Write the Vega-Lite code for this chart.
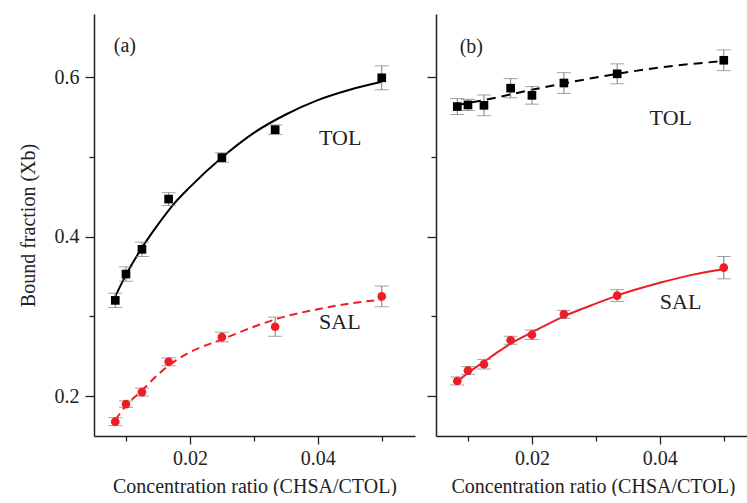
{
  "$schema": "https://vega.github.io/schema/vega-lite/v6.json",
  "padding": {"left": 18, "top": 14, "right": 0, "bottom": 0},
  "autosize": {"type": "pad"},
  "background": "white",
  "config": {
    "view": {"stroke": null},
    "font": "Liberation Serif",
    "axis": {
      "grid": false,
      "domainColor": "#222",
      "domainWidth": 1.5,
      "tickColor": "#222",
      "tickWidth": 1.3,
      "labelFont": "Liberation Serif",
      "titleFont": "Liberation Serif",
      "labelFontSize": 20,
      "titleFontSize": 20,
      "titleFontWeight": "normal",
      "labelColor": "#222",
      "titleColor": "#222"
    }
  },
  "datasets": {
    "points": [
      {"panel": "a", "series": "TOL", "x": 0.00833, "y": 0.320, "err": 0.009},
      {"panel": "a", "series": "TOL", "x": 0.01, "y": 0.353, "err": 0.009},
      {"panel": "a", "series": "TOL", "x": 0.0125, "y": 0.384, "err": 0.009},
      {"panel": "a", "series": "TOL", "x": 0.01667, "y": 0.447, "err": 0.008},
      {"panel": "a", "series": "TOL", "x": 0.025, "y": 0.499, "err": 0.006},
      {"panel": "a", "series": "TOL", "x": 0.03333, "y": 0.534, "err": 0.006},
      {"panel": "a", "series": "TOL", "x": 0.05, "y": 0.599, "err": 0.015},
      {"panel": "a", "series": "SAL", "x": 0.00833, "y": 0.168, "err": 0.005},
      {"panel": "a", "series": "SAL", "x": 0.01, "y": 0.190, "err": 0.004},
      {"panel": "a", "series": "SAL", "x": 0.0125, "y": 0.205, "err": 0.005},
      {"panel": "a", "series": "SAL", "x": 0.01667, "y": 0.243, "err": 0.005},
      {"panel": "a", "series": "SAL", "x": 0.025, "y": 0.274, "err": 0.006},
      {"panel": "a", "series": "SAL", "x": 0.03333, "y": 0.287, "err": 0.012},
      {"panel": "a", "series": "SAL", "x": 0.05, "y": 0.325, "err": 0.013},
      {"panel": "b", "series": "TOL", "x": 0.00833, "y": 0.563, "err": 0.010},
      {"panel": "b", "series": "TOL", "x": 0.01, "y": 0.565, "err": 0.007},
      {"panel": "b", "series": "TOL", "x": 0.0125, "y": 0.5645, "err": 0.013},
      {"panel": "b", "series": "TOL", "x": 0.01667, "y": 0.586, "err": 0.012},
      {"panel": "b", "series": "TOL", "x": 0.02, "y": 0.577, "err": 0.011},
      {"panel": "b", "series": "TOL", "x": 0.025, "y": 0.5925, "err": 0.013},
      {"panel": "b", "series": "TOL", "x": 0.03333, "y": 0.604, "err": 0.0125},
      {"panel": "b", "series": "TOL", "x": 0.05, "y": 0.621, "err": 0.013},
      {"panel": "b", "series": "SAL", "x": 0.00833, "y": 0.219, "err": 0.005},
      {"panel": "b", "series": "SAL", "x": 0.01, "y": 0.232, "err": 0.005},
      {"panel": "b", "series": "SAL", "x": 0.0125, "y": 0.240, "err": 0.006},
      {"panel": "b", "series": "SAL", "x": 0.01667, "y": 0.270, "err": 0.005},
      {"panel": "b", "series": "SAL", "x": 0.02, "y": 0.277, "err": 0.006},
      {"panel": "b", "series": "SAL", "x": 0.025, "y": 0.3025, "err": 0.005},
      {"panel": "b", "series": "SAL", "x": 0.03333, "y": 0.326, "err": 0.0075},
      {"panel": "b", "series": "SAL", "x": 0.05, "y": 0.361, "err": 0.014}
    ],
    "fits": [
      {"panel": "a", "series": "TOL", "x": 0.00833, "y": 0.325},
      {"panel": "a", "series": "TOL", "x": 0.01, "y": 0.352},
      {"panel": "a", "series": "TOL", "x": 0.0125, "y": 0.386},
      {"panel": "a", "series": "TOL", "x": 0.015, "y": 0.415},
      {"panel": "a", "series": "TOL", "x": 0.0175, "y": 0.441},
      {"panel": "a", "series": "TOL", "x": 0.02, "y": 0.462},
      {"panel": "a", "series": "TOL", "x": 0.025, "y": 0.499},
      {"panel": "a", "series": "TOL", "x": 0.03, "y": 0.530},
      {"panel": "a", "series": "TOL", "x": 0.035, "y": 0.553},
      {"panel": "a", "series": "TOL", "x": 0.04, "y": 0.571},
      {"panel": "a", "series": "TOL", "x": 0.045, "y": 0.584},
      {"panel": "a", "series": "TOL", "x": 0.05, "y": 0.594},
      {"panel": "a", "series": "SAL", "x": 0.00833, "y": 0.170},
      {"panel": "a", "series": "SAL", "x": 0.01, "y": 0.188},
      {"panel": "a", "series": "SAL", "x": 0.0125, "y": 0.207},
      {"panel": "a", "series": "SAL", "x": 0.015, "y": 0.227},
      {"panel": "a", "series": "SAL", "x": 0.0175, "y": 0.243},
      {"panel": "a", "series": "SAL", "x": 0.02, "y": 0.255},
      {"panel": "a", "series": "SAL", "x": 0.025, "y": 0.271},
      {"panel": "a", "series": "SAL", "x": 0.03, "y": 0.287},
      {"panel": "a", "series": "SAL", "x": 0.035, "y": 0.300},
      {"panel": "a", "series": "SAL", "x": 0.04, "y": 0.309},
      {"panel": "a", "series": "SAL", "x": 0.045, "y": 0.316},
      {"panel": "a", "series": "SAL", "x": 0.05, "y": 0.321},
      {"panel": "b", "series": "TOL", "x": 0.00833, "y": 0.565},
      {"panel": "b", "series": "TOL", "x": 0.0125, "y": 0.571},
      {"panel": "b", "series": "TOL", "x": 0.02, "y": 0.584},
      {"panel": "b", "series": "TOL", "x": 0.025, "y": 0.592},
      {"panel": "b", "series": "TOL", "x": 0.03333, "y": 0.604},
      {"panel": "b", "series": "TOL", "x": 0.04, "y": 0.612},
      {"panel": "b", "series": "TOL", "x": 0.05, "y": 0.620},
      {"panel": "b", "series": "SAL", "x": 0.00833, "y": 0.218},
      {"panel": "b", "series": "SAL", "x": 0.01, "y": 0.229},
      {"panel": "b", "series": "SAL", "x": 0.0125, "y": 0.243},
      {"panel": "b", "series": "SAL", "x": 0.015, "y": 0.257},
      {"panel": "b", "series": "SAL", "x": 0.0167, "y": 0.266},
      {"panel": "b", "series": "SAL", "x": 0.02, "y": 0.280},
      {"panel": "b", "series": "SAL", "x": 0.025, "y": 0.300},
      {"panel": "b", "series": "SAL", "x": 0.03, "y": 0.316},
      {"panel": "b", "series": "SAL", "x": 0.0333, "y": 0.326},
      {"panel": "b", "series": "SAL", "x": 0.04, "y": 0.342},
      {"panel": "b", "series": "SAL", "x": 0.045, "y": 0.352},
      {"panel": "b", "series": "SAL", "x": 0.05, "y": 0.359}
    ],
    "labels": [
      {"panel": "a", "label": "(a)", "x": 0.0081, "y": 0.639, "kind": "tag"},
      {"panel": "a", "label": "TOL", "x": 0.0402, "y": 0.5235, "kind": "name"},
      {"panel": "a", "label": "SAL", "x": 0.0402, "y": 0.2932, "kind": "name"},
      {"panel": "b", "label": "(b)", "x": 0.0087, "y": 0.638, "kind": "tag"},
      {"panel": "b", "label": "TOL", "x": 0.0384, "y": 0.5482, "kind": "name"},
      {"panel": "b", "label": "SAL", "x": 0.040, "y": 0.3183, "kind": "name"}
    ]
  },
  "spacing": 11,
  "hconcat": [
    {
      "width": 321,
      "height": 422,
      "encoding": {
        "x": {
          "field": "x", "type": "quantitative",
          "scale": {"domain": [0.005, 0.0552], "nice": false, "zero": false},
          "axis": {
            "values": [0.01, 0.02, 0.03, 0.04, 0.05],
            "format": ".2f",
            "labelExpr": "(datum.value == 0.02 || datum.value == 0.04) ? datum.label : ''",
            "tickSize": {"condition": {"test": "datum.value == 0.02 || datum.value == 0.04", "value": 8}, "value": 5},
            "labelPadding": 4,
            "title": "Concentration ratio (CHSA/CTOL)",
            "titlePadding": 8
          }
        },
        "y": {
          "field": "y", "type": "quantitative",
          "scale": {"domain": [0.15, 0.679], "nice": false, "zero": false},
          "axis": {
            "values": [0.2, 0.3, 0.4, 0.5, 0.6],
            "format": ".1f",
            "labelExpr": "(datum.value == 0.3 || datum.value == 0.5) ? '' : datum.label",
            "tickSize": {"condition": {"test": "datum.value == 0.3 || datum.value == 0.5", "value": 5}, "value": 9},
            "labelPadding": 6,
            "title": "Bound fraction (Xb)",
            "titlePadding": 16
          }
        }
      },
      "layer": [
        {
          "data": {"name": "fits"},
          "transform": [{"filter": "datum.panel == 'a' && datum.series == 'TOL'"}],
          "mark": {"type": "line", "color": "#000000", "strokeWidth": 2, "interpolate": "monotone"},
          "encoding": {}
        },
        {
          "data": {"name": "fits"},
          "transform": [{"filter": "datum.panel == 'a' && datum.series == 'SAL'"}],
          "mark": {"type": "line", "color": "#ee1c24", "strokeWidth": 2, "strokeDash": [8, 5], "interpolate": "monotone"},
          "encoding": {}
        },
        {
          "data": {"name": "points"},
          "transform": [{"filter": "datum.panel == 'a'"}],
          "mark": {"type": "errorbar", "ticks": {"size": 14, "color": "#7a7a7a"}, "rule": {"color": "#7a7a7a"}, "thickness": 1},
          "encoding": {"yError": {"field": "err"}}
        },
        {
          "data": {"name": "points"},
          "transform": [{"filter": "datum.panel == 'a'"}],
          "mark": {"type": "point", "filled": true, "opacity": 1, "size": 75},
          "encoding": {
            "color": {"field": "series", "type": "nominal", "scale": {"domain": ["TOL", "SAL"], "range": ["#000000", "#ee1c24"]}, "legend": null},
            "shape": {"field": "series", "type": "nominal", "scale": {"domain": ["TOL", "SAL"], "range": ["square", "circle"]}, "legend": null}
          }
        },
        {
          "data": {"name": "labels"},
          "transform": [{"filter": "datum.panel == 'a'"}],
          "mark": {"type": "text", "align": "left", "baseline": "middle", "font": "Liberation Serif", "color": "#222"},
          "encoding": {
            "text": {"field": "label"},
            "size": {"field": "kind", "type": "nominal", "scale": {"domain": ["tag", "name"], "range": [20, 22]}, "legend": null}
          }
        }
      ]
    },
    {
      "width": 314,
      "height": 422,
      "encoding": {
        "x": {
          "field": "x", "type": "quantitative",
          "scale": {"domain": [0.005, 0.0541], "nice": false, "zero": false},
          "axis": {
            "values": [0.01, 0.02, 0.03, 0.04, 0.05],
            "format": ".2f",
            "labelExpr": "(datum.value == 0.02 || datum.value == 0.04) ? datum.label : ''",
            "tickSize": {"condition": {"test": "datum.value == 0.02 || datum.value == 0.04", "value": 8}, "value": 5},
            "labelPadding": 4,
            "title": "Concentration ratio (CHSA/CTOL)",
            "titlePadding": 8
          }
        },
        "y": {
          "field": "y", "type": "quantitative",
          "scale": {"domain": [0.15, 0.679], "nice": false, "zero": false},
          "axis": {
            "values": [0.2, 0.3, 0.4, 0.5, 0.6],
            "labels": false,
            "tickSize": {"condition": {"test": "datum.value == 0.3 || datum.value == 0.5", "value": 5}, "value": 9},
            "title": null
          }
        }
      },
      "layer": [
        {
          "data": {"name": "fits"},
          "transform": [{"filter": "datum.panel == 'b' && datum.series == 'TOL'"}],
          "mark": {"type": "line", "color": "#000000", "strokeWidth": 2, "strokeDash": [9, 6], "interpolate": "monotone"},
          "encoding": {}
        },
        {
          "data": {"name": "fits"},
          "transform": [{"filter": "datum.panel == 'b' && datum.series == 'SAL'"}],
          "mark": {"type": "line", "color": "#ee1c24", "strokeWidth": 2, "interpolate": "monotone"},
          "encoding": {}
        },
        {
          "data": {"name": "points"},
          "transform": [{"filter": "datum.panel == 'b'"}],
          "mark": {"type": "errorbar", "ticks": {"size": 14, "color": "#7a7a7a"}, "rule": {"color": "#7a7a7a"}, "thickness": 1},
          "encoding": {"yError": {"field": "err"}}
        },
        {
          "data": {"name": "points"},
          "transform": [{"filter": "datum.panel == 'b'"}],
          "mark": {"type": "point", "filled": true, "opacity": 1, "size": 75},
          "encoding": {
            "color": {"field": "series", "type": "nominal", "scale": {"domain": ["TOL", "SAL"], "range": ["#000000", "#ee1c24"]}, "legend": null},
            "shape": {"field": "series", "type": "nominal", "scale": {"domain": ["TOL", "SAL"], "range": ["square", "circle"]}, "legend": null}
          }
        },
        {
          "data": {"name": "labels"},
          "transform": [{"filter": "datum.panel == 'b'"}],
          "mark": {"type": "text", "align": "left", "baseline": "middle", "font": "Liberation Serif", "color": "#222"},
          "encoding": {
            "text": {"field": "label"},
            "size": {"field": "kind", "type": "nominal", "scale": {"domain": ["tag", "name"], "range": [20, 22]}, "legend": null}
          }
        }
      ]
    }
  ]
}
